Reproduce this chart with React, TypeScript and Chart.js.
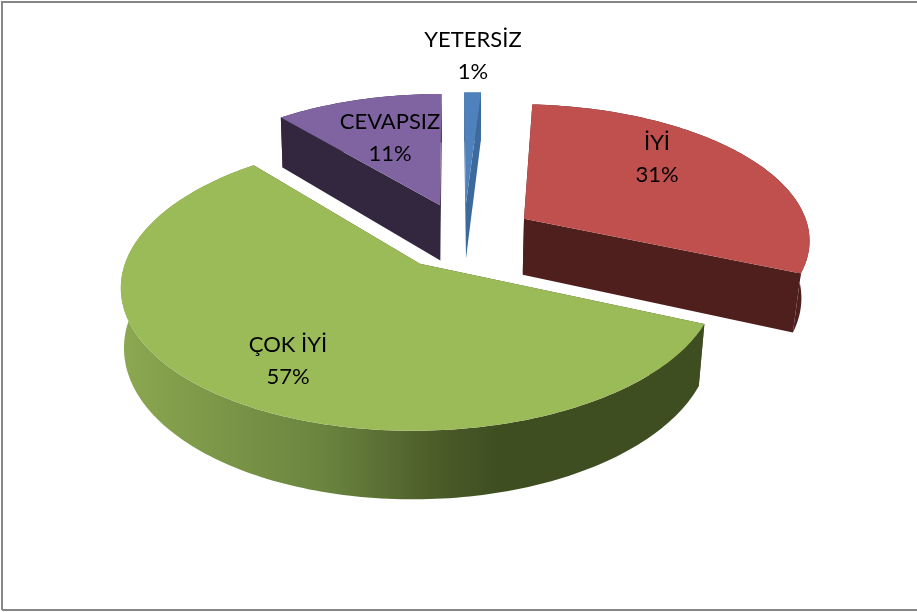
import React, { useEffect, useRef } from "react";
import { Chart, registerables } from "chart.js";

Chart.register(...registerables);

const categories = ["İYİ", "ÇOK İYİ", "CEVAPSIZ", "YETERSİZ"];
const percentages = [30.5, 57.4, 11, 1.1];
const tickLabels = ["31%", "57%", "11%", "1%"];
const faceColors = ["#C0504D", "#9BBB59", "#8064A2", "#4F81BD"];
const wallColors = ["#4F1F1E", "#3F4E21", "#33273F", "#3C6A9C"];
const labelCenters = [
  [657, 159],
  [288, 361],
  [390, 138],
  [473, 56],
];

// projection of the pie plane to the picture
const CX = 464, CY = 236, AX = 286.7, BY = 135, PERSP = 0.14, DEPTH = 57, PIVOT_X = 470, SHRINK_R = 0.976, SHRINK_L = 0.991;

function project(u: number, v: number) {
  const w = 1 / (1 - PERSP * v);
  return { x: CX + AX * u * w, y: CY + BY * v * w, w };
}
function lower(p: { x: number; y: number; w: number }) {
  const s = p.x > PIVOT_X ? SHRINK_R : SHRINK_L;
  return { x: PIVOT_X + (p.x - PIVOT_X) * s, y: p.y + DEPTH * p.w };
}

const pie3d = {
  id: "pie3d",
  beforeDatasetDraw(chart: any) {
    const ctx: CanvasRenderingContext2D = chart.ctx;
    const arcs = chart.getDatasetMeta(0).data;
    const order = arcs
      .map((a: any, i: number) => ({ a, i, mid: (a.startAngle + a.endAngle) / 2 }))
      .sort((p: any, q: any) => Math.sin(p.mid) - Math.sin(q.mid));

    const greenGrad = ctx.createLinearGradient(120, 0, 705, 0);
    greenGrad.addColorStop(0, "#8CA850");
    greenGrad.addColorStop(0.35, "#6A843F");
    greenGrad.addColorStop(0.55, "#4A5A28");
    greenGrad.addColorStop(0.65, "#3F4E21");
    greenGrad.addColorStop(1, "#3F4E21");

    for (const { a, i, mid } of order) {
      const R = a.outerRadius;
      const off = a.options.offset / R;
      const ax = Math.cos(mid) * off;
      const ay = Math.sin(mid) * off;
      const apex = project(ax, ay);
      const rim: any[] = [];
      const steps = Math.max(8, Math.ceil((a.endAngle - a.startAngle) / 0.02));
      for (let s = 0; s <= steps; s++) {
        const t = a.startAngle + ((a.endAngle - a.startAngle) * s) / steps;
        rim.push(project(ax + Math.cos(t), ay + Math.sin(t)));
      }
      const poly = (pts: { x: number; y: number }[], fill: any) => {
        ctx.beginPath();
        pts.forEach((p, k) => (k ? ctx.lineTo(p.x, p.y) : ctx.moveTo(p.x, p.y)));
        ctx.closePath();
        ctx.fillStyle = fill;
        ctx.fill();
      };
      const wall = i === 1 ? greenGrad : wallColors[i];
      const first = rim[0];
      const last = rim[rim.length - 1];
      poly([apex, first, lower(first), lower(apex)], wallColors[i]);
      poly([apex, last, lower(last), lower(apex)], wallColors[i]);
      poly([...rim, ...rim.map(lower).reverse()], wall);
      poly([apex, ...rim], faceColors[i]);
    }
    return false;
  },
  afterDraw(chart: any) {
    const ctx: CanvasRenderingContext2D = chart.ctx;
    ctx.save();
    ctx.fillStyle = "#000000";
    ctx.font = "22px Lato, 'Open Sans', sans-serif";
    ctx.textAlign = "center";
    ctx.textBaseline = "middle";
    categories.forEach((c, i) => {
      const [x, y] = labelCenters[i];
      ctx.fillText(c, x, y - 16);
      ctx.fillText(tickLabels[i], x, y + 16);
    });
    ctx.strokeStyle = "#868686";
    ctx.lineWidth = 2;
    ctx.beginPath();
    ctx.moveTo(2, 610);
    ctx.lineTo(2, 2);
    ctx.lineTo(917, 2);
    ctx.moveTo(2, 610);
    ctx.lineTo(917, 610);
    ctx.stroke();
    ctx.restore();
  },
};

export default function App() {
  const ref = useRef<HTMLCanvasElement>(null);
  useEffect(() => {
    const chart = new Chart(ref.current!, {
      type: "pie",
      data: {
        labels: categories,
        datasets: [{ data: percentages, backgroundColor: faceColors, offset: 68, borderWidth: 0 }],
      },
      options: {
        responsive: false,
        animation: false,
        rotation: 3.6,
        plugins: { legend: { display: false }, tooltip: { enabled: false } },
      },
      plugins: [pie3d],
    } as any);
    return () => chart.destroy();
  }, []);
  return (
    <div style={{ position: "fixed", left: 0, top: 0, width: 917, height: 612, background: "#fff" }}>
      <canvas ref={ref} width={917} height={612} style={{ display: "block" }} />
    </div>
  );
}
